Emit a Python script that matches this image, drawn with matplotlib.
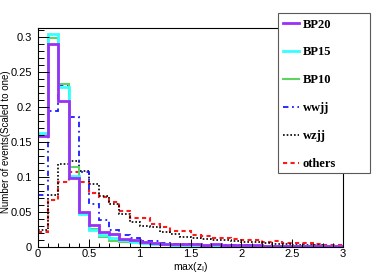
import numpy as np
import matplotlib.pyplot as plt
from matplotlib.patches import Rectangle
from matplotlib.lines import Line2D
from matplotlib.ticker import MultipleLocator, FuncFormatter

# 30 bins of width 0.1 on max(z_l)
bin_edges = np.linspace(0, 3, 31)

bp20 = [0.159, 0.290, 0.209, 0.099, 0.050, 0.031, 0.022, 0.018, 0.012, 0.010,
        0.007, 0.0055, 0.0045, 0.0045, 0.004, 0.004, 0.0035, 0.004, 0.003, 0.0028,
        0.0025, 0.0025, 0.002, 0.002, 0.0018, 0.0018, 0.0015, 0.0015, 0.0012, 0.001]
bp15 = [0.163, 0.304, 0.229, 0.102, 0.047, 0.024, 0.017, 0.0135, 0.010, 0.0075,
        0.006, 0.005, 0.004, 0.0035, 0.003, 0.003, 0.0025, 0.0025, 0.002, 0.002,
        0.0018, 0.0015, 0.0015, 0.0012, 0.0012, 0.001, 0.0015, 0.001, 0.0008, 0.0008]
bp10 = [0.161, 0.298, 0.233, 0.115, 0.048, 0.026, 0.015, 0.009, 0.0068, 0.0065,
        0.005, 0.0045, 0.004, 0.0035, 0.003, 0.003, 0.0025, 0.002, 0.002, 0.002,
        0.0015, 0.0015, 0.0015, 0.0012, 0.001, 0.001, 0.001, 0.0008, 0.0008, 0.0008]
wwjj = [0.074, 0.195, 0.232, 0.186, 0.107, 0.061, 0.038, 0.025, 0.017, 0.013,
        0.009, 0.008, 0.006, 0.005, 0.005, 0.004, 0.0035, 0.003, 0.003, 0.0025,
        0.0025, 0.002, 0.002, 0.0015, 0.0015, 0.0012, 0.0012, 0.001, 0.001, 0.0008]
wzjj = [0.025, 0.074, 0.118, 0.123, 0.108, 0.090, 0.073, 0.061, 0.047, 0.036,
        0.030, 0.028, 0.021, 0.018, 0.0145, 0.0125, 0.011, 0.010, 0.010, 0.0088,
        0.0078, 0.0075, 0.006, 0.005, 0.004, 0.0035, 0.003, 0.0025, 0.002, 0.0015]
others = [0.022, 0.067, 0.093, 0.107, 0.093, 0.077, 0.071, 0.065, 0.052, 0.042,
          0.041, 0.033, 0.028, 0.023, 0.023, 0.017, 0.016, 0.0125, 0.0125, 0.0115,
          0.0095, 0.0105, 0.0078, 0.0085, 0.0062, 0.0055, 0.0058, 0.004, 0.0032, 0.0025]

labels = ["BP20", "BP15", "BP10", "wwjj", "wzjj", "others"]
series = [bp20, bp15, bp10, wwjj, wzjj, others]
colors = ["#9b30f5", "#33ffff", "#5fd35f", "#1a1aff", "black", "#ff1a1a"]
styles = ["-", "-", "-", (0, (3, 2, 1, 2)), (0, (1, 1.2)), (0, (2, 1.6))]
widths = [2.0, 2.0, 1.5, 1.3, 1.2, 1.5]

plt.rcParams['font.family'] = ['Liberation Sans', 'DejaVu Sans']

fig = plt.figure(figsize=(3.82, 2.76), dpi=100)
ax = fig.add_axes([38 / 382, 1 - 247 / 276, 305 / 382, 219 / 276])

# backgrounds first, signals on top
for i in [5, 4, 3, 2, 1, 0]:
    ax.stairs(series[i], bin_edges, baseline=None, color=colors[i],
              linestyle=styles[i], linewidth=widths[i])

ax.set_xlim(0, 3)
ax.set_ylim(0, 0.313)
ax.xaxis.set_major_locator(MultipleLocator(0.5))
ax.xaxis.set_minor_locator(MultipleLocator(0.1))
ax.yaxis.set_major_locator(MultipleLocator(0.05))
ax.yaxis.set_minor_locator(MultipleLocator(0.01))
fmt = FuncFormatter(lambda v, p: "%g" % round(v, 3))
ax.xaxis.set_major_formatter(fmt)
ax.yaxis.set_major_formatter(fmt)
ax.tick_params(which='both', direction='in', top=False, right=False,
               labelsize=8, width=0.7)
ax.tick_params(axis='y', which='major', length=8, pad=4.5)
ax.tick_params(axis='y', which='minor', length=4)
ax.tick_params(axis='x', which='major', length=6, pad=1.5)
ax.tick_params(axis='x', which='minor', length=3)
for s in ax.spines.values():
    s.set_linewidth(0.8)

ax.set_xlabel(r"max(z$_\mathrm{l}$)", fontsize=7.5, labelpad=1)
ax.set_ylabel("Number of events(Scaled to one)", fontsize=7)
ax.yaxis.set_label_coords(-0.087, 0.48)

# legend box drawn in ROOT style, wider than its contents
box = Rectangle((278 / 382, 1 - 173 / 276), 92 / 382, 160 / 276,
                transform=fig.transFigure, facecolor="white",
                edgecolor="0.35", linewidth=0.8, zorder=5)
fig.patches.append(box)

handles = [Line2D([], [], color=c, linestyle=s, linewidth=w)
           for c, s, w in zip(colors, styles, widths)]
leg = fig.legend(handles, labels, loc="upper left",
                 bbox_to_anchor=(280 / 382, 1 - 16 / 276), frameon=False,
                 prop={'family': 'Liberation Serif', 'weight': 'bold', 'size': 9},
                 handlelength=1.3, handletextpad=0.3, labelspacing=1.27,
                 borderaxespad=0, borderpad=0.2)
leg.set_zorder(6)

fig.savefig("out.png", dpi=100)
